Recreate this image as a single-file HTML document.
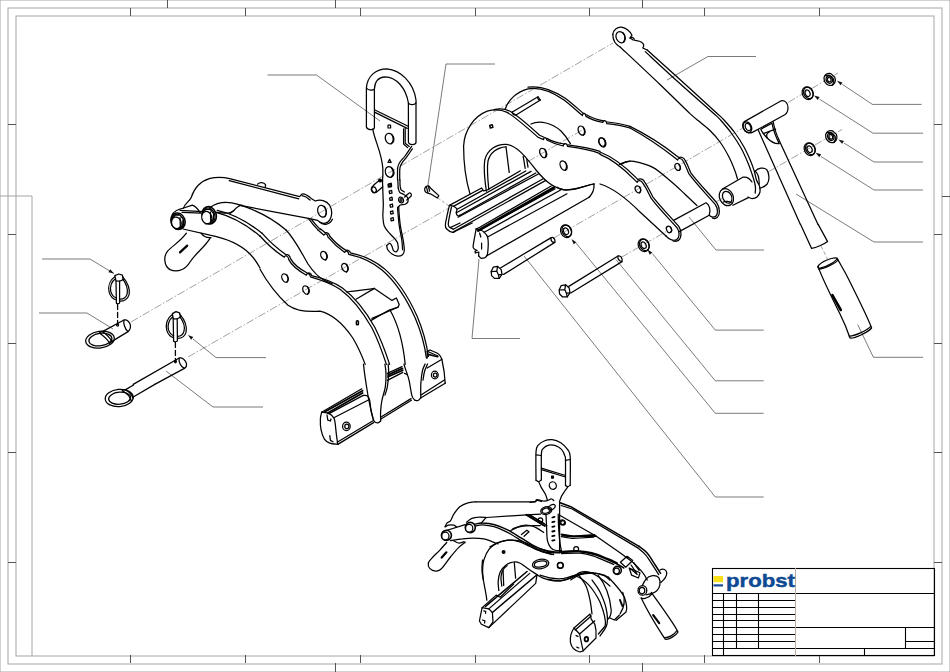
<!DOCTYPE html>
<html><head><meta charset="utf-8">
<style>
html,body{margin:0;padding:0;background:#fff;}
body{width:950px;height:672px;overflow:hidden;font-family:"Liberation Sans",sans-serif;}
svg{display:block}
.f{fill:none;stroke:#a6a6a6;stroke-width:1}
.t{fill:none;stroke:#555;stroke-width:1}
.b{fill:none;stroke:#000;stroke-width:1.1}
.p{fill:none;stroke:#000;stroke-width:1.25;stroke-linecap:round;stroke-linejoin:round}
.pf{fill:#fff;stroke:#111;stroke-width:1;stroke-linecap:round;stroke-linejoin:round}
.h{fill:none;stroke:#222;stroke-width:0.7;stroke-linecap:round;stroke-linejoin:round}
.l{fill:none;stroke:#333;stroke-width:0.65}
.c{fill:none;stroke:#555;stroke-width:0.55;stroke-dasharray:8 2 1.5 2}
.k{fill:#111;stroke:none}
.z *{vector-effect:non-scaling-stroke}
</style></head><body>
<svg width="950" height="672" viewBox="0 0 950 672">
<rect width="950" height="672" fill="#fff"/>
<!-- FRAME -->
<g class="f">
<rect x="0" y="0" width="950" height="672"/>
<rect x="8" y="8" width="934" height="656"/>
<rect x="16" y="16" width="918" height="640"/>
<path d="M0 196H32V656"/>
</g>
<g class="t">
<path d="M130.500 8V16M245.500 8V16M360.500 8V16M475.500 8V16M589.500 8V16M704.500 8V16M819.500 8V16"/>
<path d="M130.500 655V663M245.500 655V663M360.500 655V663M475.500 655V663M589.500 655V663M704.500 655V663M819.500 655V663"/>
<path d="M167.500 0V8M335.500 0V8M642.500 0V8M335.500 663V672M642.500 663V672"/>
<path d="M8 124.500H16M8 234.500H16M8 343.500H16M8 452.500H16M8 562.500H16"/>
<path d="M934 124.500H942M934 234.500H942M934 343.500H942M934 452.500H942M934 562.500H942M942 196.500H950"/>
</g>
<!-- TITLE BLOCK -->
<g class="b">
<rect x="712.500" y="568.500" width="222" height="87"/>
<path d="M712.500 593.500H934.500M795.500 627.500H934.500M905.500 627.500V648.500M905.500 641.500H934.500M712.500 648.500H934.500M864.500 648.500V655.500"/>
<path d="M712.500 600.500H795.500M712.500 607.500H795.500M712.500 614.500H795.500M712.500 620.500H795.500M712.500 627.500H795.500M712.500 634.500H795.500M712.500 641.500H795.500"/>
<path d="M723.500 593.500V655.500M736.500 593.500V648.500M758.500 593.500V648.500"/>
</g>
<path d="M795.500 568V656" stroke="#b9a9a0" stroke-width="1" fill="none"/>
<!-- LOGO -->
<rect x="713.500" y="576" width="9.500" height="6.200" fill="#f7e017"/>
<rect x="713.500" y="584.300" width="9.500" height="2.200" fill="#164a96"/>
<text x="726" y="586.500" font-family="Liberation Sans" font-weight="bold" font-size="18.500" fill="#0f4a94" stroke="#0f4a94" stroke-width="0.45" textLength="69" lengthAdjust="spacingAndGlyphs">probst</text>
<g class="c">
<path d="M131 322L613 43"/>
<path d="M188 357L448 208.500"/>
<path d="M553 238.500L743 128M788 102.500L838 73"/>
<path d="M621 257.500L668 230.500M716 202L722 198.500M768 172L842 129.500"/>
<path d="M528 161.500L584 129"/>
<path d="M438 198L449 206" stroke-dasharray="3 2"/>
<path d="M821 246L827.500 259" stroke-dasharray="4 2"/>
</g>
<g class="l">
<path d="M267.500 75H316.500L380 121"/>
<path d="M495 64H446L428 185"/>
<path d="M756 56.500H708L667 80"/>
<path d="M921.600 104.400H872.400L842.400 84.400"/>
<path d="M923 133.200H873L819.600 99.200"/>
<path d="M923 162H874L844 143"/>
<path d="M923 190H874L821 156.500"/>
<path d="M923 242H874L796 194"/>
<path d="M923.100 357.300H873.400L857.700 324.500"/>
<path d="M764 250H716L689 217"/>
<path d="M763.700 330.100H715.300L652.400 253.600"/>
<path d="M763.700 380.800H715.300L616 259.600"/>
<path d="M763.700 413.300H715.300L576 243"/>
<path d="M763.700 497H715.300L524 256"/>
<path d="M520 338.500H472L479 259"/>
<path d="M42 259H90L114 273.600"/>
<path d="M39 313H87L113 329"/>
<path d="M266 357.600H216L193 339"/>
<path d="M263 407H213L166 371"/>
</g>
<g class="k">
<path d="M837.0 80.8L840.6 85.3L842.5 82.4Z"/>
<path d="M814.0 95.6L817.7 100.0L819.6 97.1Z"/>
<path d="M838.4 139.4L842.1 143.8L844.0 140.9Z"/>
<path d="M815.6 152.8L819.3 157.2L821.2 154.3Z"/>
<path d="M647.5 249.5L649.7 254.8L652.3 252.6Z"/>
<path d="M571.5 239.0L573.7 244.3L576.3 242.2Z"/>
<path d="M188.0 335.0L191.2 339.8L193.3 337.1Z"/>
<path d="M114.0 273.6L110.2 269.3L108.4 272.2Z"/>
</g>

<g class="z p" transform="translate(150 160) scale(.2)">
<path d="M168 240C172 218 196 210 206 188C218 150 245 108 300 92C340 82 370 86 398 93L748 183L760 170C775 168 792 180 806 192L826 205C852 195 882 202 898 226C915 254 911 294 886 312C870 321 850 315 838 302L792 292L445 226"/>
<path d="M396 103L744 194"/>
<path d="M760 178C775 180 790 190 800 200"/>
<path d="M538 121C548 110 570 110 578 124L576 136"/>
<path d="M848 310C868 330 900 322 912 296"/>
<ellipse cx="860" cy="256" rx="21" ry="30" transform="rotate(-18 860 256)"/>
<path d="M872 232C884 250 884 272 874 284"/>
<path d="M168 240C140 246 118 256 110 276"/>
<path d="M168 240L212 226C228 232 240 246 250 262"/>
<path d="M150 252L262 258"/>
<path d="M160 262L255 266"/>
<path d="M165 345L300 376C380 392 450 420 500 470C520 490 536 514 550 540"/>
<ellipse cx="140" cy="306" rx="35" ry="42" transform="rotate(-20 140 306)" stroke-width="1.6"/>
<ellipse cx="138" cy="308" rx="30" ry="37" transform="rotate(-20 138 308)"/>
<path d="M112 290L128 274L150 276L166 296L166 322L150 342L128 344L110 326Z" fill="#fff"/>
<ellipse cx="132" cy="314" rx="24" ry="29" transform="rotate(-15 132 314)" fill="#fff"/>
<path d="M150 288L152 338M166 300L164 326"/>
<ellipse cx="296" cy="276" rx="35" ry="44" transform="rotate(-20 296 276)" stroke-width="1.6"/>
<ellipse cx="294" cy="278" rx="30" ry="39" transform="rotate(-20 294 278)"/>
<path d="M264 262L280 246L302 248L318 268L318 296L302 318L280 320L262 300Z" fill="#fff"/>
<ellipse cx="284" cy="288" rx="25" ry="31" transform="rotate(-15 284 288)" fill="#fff"/>
<path d="M302 260L304 312M318 274L316 300"/>
<path d="M300 238C330 216 380 204 440 222C520 246 610 290 680 350"/>
<path d="M330 262C410 282 490 330 552 382"/>
<path d="M336 252C420 270 500 318 560 366"/>
<path d="M330 262C345 262 395 276 420 252C430 240 445 228 460 226"/>
<path d="M400 268L420 252"/>
<path d="M792 292C812 320 830 340 842 352"/>
<path d="M806 296C824 320 840 336 852 348"/>
<path d="M182 366C150 410 110 430 88 456C66 484 70 530 100 548C140 566 180 545 200 510C225 470 270 440 300 392"/>
<path d="M255 366C265 380 285 390 305 388"/>
<path d="M150 462L186 428" stroke-width="2.2"/>
</g>

<g class="z p" transform="translate(330 60) scale(.2)">
<path d="M182 335V140C186 80 230 44 285 44C350 50 418 110 430 200V412C428 426 396 426 392 412V215C380 140 330 84 275 84C240 86 224 110 222 145V340C218 352 186 350 182 335Z"/>
<path d="M182 140C190 152 214 154 222 146"/>
<path d="M392 216C400 226 422 226 430 214"/>
<path d="M225 250L388 330M225 262L386 342"/>
<path d="M214 346C222 400 258 460 264 540C266 570 264 590 262 610"/>
<path d="M376 342V416L396 432"/>
<path d="M368 344V420L388 438"/>
<path d="M408 432C402.5 440 384.7 467 375 480C365.3 493 356 500.8 350 510C344 519.2 341.1 524.2 339 535C336.9 545.8 337.7 564.2 337.5 575C337.3 585.8 337.9 595.8 338 600"/>
<path d="M412 444C407.3 450.7 392.5 472.5 384 484C375.5 495.5 366.7 504 361 513C355.3 522 352.1 527.7 350 538C347.9 548.3 348.7 564.7 348.5 575C348.3 585.3 348.9 595.8 349 600"/>
<ellipse cx="298" cy="393" rx="21" ry="27" transform="rotate(-20 298 393)"/>
<path d="M308 372C320 388 318 410 306 418"/>
<ellipse cx="298" cy="560" rx="21" ry="27" transform="rotate(-20 298 560)"/>
<path d="M308 540C320 556 318 576 306 584"/>
<rect x="290" y="326" width="13" height="14" stroke-width="1.2"/>
<path d="M298 496L290 512H306Z" stroke-width="1.2"/>
<path d="M290 622L302 618L306 634L292 636Z" stroke-width="1.3"/>
</g>

<g class="z p" transform="translate(340 160) scale(.2)">
<path d="M212 110L212 99"/>
<path d="M212.3 99C212.7 109.5 213.7 140.9 214.4 161.9C215.1 182.9 216.5 205.1 216.5 224.9C216.5 244.7 213.6 263.4 214.4 280.9C215.2 298.4 216.2 315.8 221.4 329.8C226.6 343.8 237.1 354.3 245.9 364.8C254.6 375.3 266.9 384.6 273.9 392.8C280.9 401 285.5 410.3 287.9 413.8"/>
<path d="M233.3 427.8C234.2 431.3 234.5 441.8 238.9 448.8C243.3 455.8 251.7 464.5 259.9 469.8C268 475 279.1 479.7 287.9 480.3C296.6 480.8 306.8 477.9 312.4 473.3C317.9 468.6 320.9 464.5 321.4 452.3C322 440 319.1 420.2 315.8 399.8C312.6 379.4 305.4 353.2 301.9 329.8C298.4 306.5 296.3 276 294.9 259.9C293.5 243.8 293.7 237.7 293.5 233.3"/>
<path d="M233.3 427.8C236 426 245 416.7 249.4 417.3C253.8 417.9 257 425.5 259.9 431.3C262.8 437.1 263.4 447.6 266.9 452.3C270.4 456.9 276.8 461 280.9 459.3C284.9 457.5 290.2 449.4 291.4 441.8C292.5 434.2 288.4 418.5 287.9 413.8"/>
<path d="M300 100C299 125 300 140 306 150L322 160"/>
<path d="M289 100L291 141"/>
<path d="M291.4 140.9C292.5 144.4 293.7 156.7 298.4 161.9C303 167.2 312.9 168.3 319.3 172.4C325.8 176.5 333.3 180.6 336.8 186.4C340.3 192.3 342.1 201.6 340.3 207.4C338.6 213.2 332.8 218.5 326.3 221.4C319.9 224.3 307.3 222.9 301.9 224.9C296.4 226.9 294.9 231.9 293.5 233.3"/>
<path d="M287.9 235.4C288.1 239.5 287.9 244.1 289.3 259.9C290.7 275.6 293 306.5 296.3 329.8C299.5 353.2 306.1 380 308.9 399.8C311.7 419.6 312.4 440.6 313 448.8"/>
<g stroke-width="1.300">
<path d="M244 120L256 116L258 130L246 132Z"/>
<path d="M246 156L258 152L260 166L248 168Z"/>
<path d="M248 190L260 186L262 200L250 202Z"/>
<path d="M250 224L262 220L264 234L252 236Z"/>
<path d="M252 258L264 254L266 268L254 270Z"/>
<path d="M254 292L266 288L268 302L256 304Z"/>
</g>
<path d="M196 102C182 112 168 124 160 136C154 152 166 166 180 162C192 154 204 142 214 134"/>
<ellipse cx="169" cy="149" rx="12" ry="15" transform="rotate(-25 169 149)"/>
<circle cx="200" cy="102" r="5" stroke-width="2"/>
<ellipse cx="305" cy="200" rx="12" ry="15" transform="rotate(-20 305 200)"/>
<ellipse cx="305" cy="200" rx="5" ry="7"/>
<path d="M322 186L344 166C352 162 360 170 356 180L334 200"/>
<path d="M424 141C430 128 444 124 452 140L494 178L487 190L452 169L436 165C426 162 422 152 424 141Z"/>
<path d="M432 134L440 164M442 130L448 156"/>
</g>

<g class="z p" transform="translate(440 70) scale(.2)">
<path d="M150 620C132 560 118 470 118 380C122 300 170 232 236 206C270 196 310 200 336 212C380 238 440 292 490 336L518 348C518 334 532 334 534 350C560 364 590 374 616 380C618 364 634 364 638 382C700 390 760 402 800 418"/>
<path d="M270 198C300 190 330 196 350 206C395 232 450 282 498 326L520 336"/>
<path d="M534 342C560 356 595 366 622 370"/>
<path d="M640 374C700 382 760 393 800 407"/>
<path d="M232 606C222 540 218 490 224 450C236 400 280 370 330 372C390 378 440 450 480 500C520 548 560 590 625 600C680 600 730 578 770 570"/>
<path d="M244 598C238 540 234 490 240 455C250 415 285 386 330 384"/>
<path d="M330 384L346 512"/>
<path d="M416 432L426 492M434 448L440 486"/>
<path d="M326 196C340 150 385 108 440 94C500 84 560 108 620 150C660 180 690 210 712 228C712 212 728 212 730 232C760 250 790 258 814 262C816 248 832 250 834 268C880 272 920 280 950 290"/>
<path d="M440 86C505 76 565 100 628 142C668 172 698 202 718 218"/>
<path d="M732 224C762 242 792 250 818 254"/>
<path d="M836 260C880 264 920 272 950 282"/>
<path d="M455 270C500 250 560 265 605 305C625 325 640 348 652 368"/>
<path d="M905 472C920 462 936 458 950 456"/>
<path d="M362 210L490 134L502 150L382 224"/>
<path d="M490 134C486 142 492 152 502 150"/>
<path d="M362 210C360 218 368 226 382 224"/>
<ellipse cx="516" cy="415" rx="16" ry="25" transform="rotate(-25 516 415)"/>
<path d="M524 396C534 410 532 430 524 438"/>
<ellipse cx="618" cy="478" rx="16" ry="25" transform="rotate(-25 618 478)"/>
<path d="M626 460C636 474 634 492 626 500"/>
<ellipse cx="708" cy="303" rx="16" ry="24" transform="rotate(-25 708 303)"/>
<path d="M716 286C726 300 724 318 716 326"/>
<ellipse cx="812" cy="362" rx="16" ry="24" transform="rotate(-25 812 362)"/>
<path d="M820 344C830 358 828 376 820 384"/>
<rect x="250" y="275" width="13" height="14" transform="rotate(-15 256 282)" stroke-width="1.5"/>
</g>

<g class="z p" transform="translate(440 150) scale(.2)">
<path d="M46.9 277.5C45.2 284.8 40.2 304.8 36.8 321C33.5 337.2 27.4 362.3 26.8 374.6C26.2 386.9 27.4 388.5 33.5 394.7C39.6 401 56.7 410.3 63.6 412.1C70.6 413.9 73.1 406.5 75 405.4"/>
<path d="M57.6 284.9C56 292 50.9 313 48.2 327.7C45.5 342.5 41.1 363.2 41.5 373.3C42 383.3 46.7 384.2 50.9 388C55.1 391.8 64.3 394.7 67 396.1"/>
<path d="M46.9 277.5C50.2 278.2 60.7 278.6 67 281.5C73.2 284.4 82.1 289.4 84.4 294.9C86.7 300.4 80.4 308.6 81 314.3C81.7 320 85.2 327.2 88.4 329.1C91.7 331 98.5 326.3 100.5 325.7"/>
<path d="M47 277L208 190L218 204L236 200L402 104"/>
<path d="M67 282L213 202"/>
<path d="M86 296L429 105"/>
<path d="M82 314L455 107"/>
<path d="M100 326L479 115"/>
<path d="M90 336L492 120"/>
<path d="M51 388L100 365"/>
<path d="M67 396L516 144"/>
<path d="M75 405L529 152"/>
<path d="M64 412L161 365"/>
<path d="M180.8 394.7C179.2 403.6 173.3 432.7 170.8 448.3C168.3 463.9 163.9 479.6 166.1 488.5C168.3 497.4 181.2 499.6 184.2 501.9"/>
<path d="M184 502L175 507L177 515L194 510L193 529"/>
<path d="M192.9 528.7C195.4 530.9 200.7 542.1 207.6 542.1C214.6 542.1 228.8 539.8 234.4 528.7C240 517.5 240.6 490.7 241.1 475.1C241.7 459.5 241.1 445.5 237.8 434.9C234.4 424.3 227.2 417.5 221 411.5C214.9 405.4 207.6 401.5 200.9 398.7C194.2 395.9 184.2 395.4 180.8 394.7"/>
<path d="M181 395L201 385L556 180"/>
<path d="M201 399L576 194"/>
<path d="M221 411L603 200"/>
<path d="M238 435L635 219"/>
<path d="M234 529L750 234"/>
<path d="M198 415L204 435"/>
<path d="M208 465L208 495"/>
<path d="M191 403L569 188" stroke-width="2.600"/>
<path d="M745 236C762 220 772 200 770 170"/>
<path d="M586 186C600 200 640 204 680 194C720 182 750 172 770 170"/>
<path d="M302 590L556 438C566 434 578 446 574 462L318 622"/>
<path d="M556 438C552 450 560 464 574 462"/>
<path d="M256 608L266 586L288 582L306 598L310 622L296 642L272 642L258 628Z" fill="#fff"/>
<path d="M288 582L284 606L292 624L296 642M284 606L256 608M292 624L310 622"/>
<ellipse cx="630" cy="406" rx="26" ry="33" transform="rotate(-25 630 406)"/>
<ellipse cx="634" cy="404" rx="23" ry="30" transform="rotate(-25 634 404)"/>
<ellipse cx="630" cy="406" rx="12" ry="17" transform="rotate(-25 630 406)"/>
</g>

<g class="z p" transform="translate(600 20) scale(.2)">
<ellipse cx="103" cy="86" rx="22" ry="29" transform="rotate(-25 103 86)"/>
<path d="M116 64C128 80 126 102 116 112"/>
<path d="M150 90C156 84 166 86 172 96"/>
</g>

<g class="p">
<path d="M612.800 34.400C613.200 30 617.200 26.800 621.600 27.200C626 28 630 31.600 632 35.200L630 38L633.200 40C636 40.800 639.200 40.800 641.200 42C644 43.600 644.400 46 642.800 48L647.200 50"/>
<path d="M647.2 50C652.8 55 669.1 69.7 680.5 80C691.9 90.3 708.2 105.3 715.5 112C722.8 118.7 720.8 116.5 724 120C727.2 123.5 731.7 128.5 735 133C738.3 137.5 741.3 142.2 744 147C746.7 151.8 749.2 157.8 751 162C752.8 166.2 753.6 169 754.5 172C755.4 175 755.7 177.7 756.5 180C757.3 182.3 758.9 184 759.5 186C760.1 188 760.4 190.2 760 192C759.6 193.8 758.3 195.9 757 197C755.7 198.1 753.5 198.5 752 198.5C750.5 198.5 748.7 197.2 748 197"/>
<path d="M645.2 51.6C650.4 56.4 665.4 70.4 676.5 80.5C687.6 90.6 704.7 105.4 712 112C719.3 118.6 717.2 116.3 720.5 120C723.8 123.7 728.6 129.3 732 134C735.4 138.7 738.3 143.2 741 148C743.7 152.8 746.2 158.7 748 163C749.8 167.3 750.9 170.8 752 174C753.1 177.2 753.9 179.7 754.5 182C755.1 184.3 755.4 186.2 755.5 188C755.6 189.8 755.2 192.2 755.2 193"/>
<path d="M612.800 34.400C612.800 40 616 44.800 620.400 47.200"/>
<path d="M620.4 47.2C627 53.4 648.4 73.4 660 84.5C671.6 95.6 683.3 107.3 690 113.6C696.7 119.8 696.7 119.2 700 122C703.3 124.8 706.7 127.2 710 130.5C713.3 133.8 716.8 137.6 720 142C723.2 146.4 726.5 152.2 729 157C731.5 161.8 733.6 167.3 735 171C736.4 174.7 737.1 177.7 737.5 179"/>
</g>

<g class="z p" transform="translate(600 130) scale(.2)">
<path d="M0 122C60 146 120 195 172 248L186 262C188 248 208 250 214 266C232 290 244 320 256 342C300 400 350 448 386 490C400 510 398 538 384 548C366 556 344 546 330 530"/>
<path d="M0 110C66 136 128 185 180 238L190 248C200 240 218 246 224 262C240 284 252 312 264 334C310 392 358 440 394 482C410 506 408 540 392 552C382 558 372 558 364 554"/>
<path d="M0 270C60 288 130 340 200 410L330 530"/>
<path d="M150 -10C250 44 330 104 376 140L388 150C390 138 410 140 416 156C430 180 438 204 444 218C480 268 540 330 576 372C592 396 590 422 578 432C566 438 554 434 546 426"/>
<path d="M150 -18C256 34 340 95 384 130L394 138C404 132 420 138 426 152C440 176 448 200 454 214C490 262 548 322 584 364C602 392 600 426 586 438C578 444 570 444 562 440"/>
<path d="M97 172C101.7 170 112.8 162.5 125 160C137.2 157.5 146.8 152.5 170 157C193.2 161.5 233.8 170.8 264 187C294.2 203.2 324.2 231.7 351 254C377.8 276.3 402.7 300.3 425 321C447.3 341.7 475 368.5 485 378"/>
<ellipse cx="190" cy="297" rx="13" ry="18" transform="rotate(-25 190 297)"/>
<path d="M198 284C206 294 204 308 198 314"/>
<ellipse cx="388" cy="185" rx="13" ry="18" transform="rotate(-25 388 185)"/>
<path d="M396 172C404 182 402 196 396 202"/>
<ellipse cx="345" cy="497" rx="12" ry="17" transform="rotate(-25 345 497)"/>
<path d="M352 484C360 494 358 506 352 512"/>
<ellipse cx="10" cy="60" rx="15" ry="22" transform="rotate(-25 10 60)"/>
<path d="M368 452L530 364C546 372 556 400 546 426L396 508"/>
<ellipse cx="218" cy="576" rx="26" ry="33" transform="rotate(-25 218 576)"/>
<ellipse cx="222" cy="574" rx="23" ry="30" transform="rotate(-25 222 574)"/>
<ellipse cx="218" cy="576" rx="12" ry="17" transform="rotate(-25 218 576)"/>
</g>

<g class="z p" transform="translate(690 90) scale(.2)">
<path d="M326 406C340 390 368 384 384 398C398 420 398 452 386 470C374 484 360 488 348 492"/>
<path d="M326 406C338 414 346 440 346 470"/>
<ellipse cx="182" cy="536" rx="34" ry="44" transform="rotate(-25 182 536)"/>
<ellipse cx="186" cy="536" rx="22" ry="31" transform="rotate(-25 186 536)"/>
<path d="M166 560C178 554 198 556 206 562"/>
<path d="M160 496L264 436C284 432 300 444 310 460"/>
<path d="M214 576L292 538"/>
<path d="M272 158L456 54C474 50 490 64 490 88C490 106 484 118 474 124L312 212C294 220 272 208 266 188C262 176 264 164 272 158Z"/>
<ellipse cx="287" cy="186" rx="20" ry="28" transform="rotate(-25 287 186)"/>
<ellipse cx="290" cy="185" rx="13" ry="19" transform="rotate(-25 290 185)"/>
<path d="M340 198L552 672M416 160C424 200 436 232 446 252L640 672"/>
<path d="M354 196L410 166C416 200 432 240 446 268C430 270 404 258 386 240C372 226 360 210 354 196Z"/>
<path d="M366 218L428 196"/>
<path d="M386 240C380 226 384 216 396 210"/>
<ellipse cx="588" cy="16" rx="26" ry="33" transform="rotate(-25 588 16)"/>
<ellipse cx="592" cy="14" rx="23" ry="30" transform="rotate(-25 592 14)"/>
<ellipse cx="588" cy="16" rx="12" ry="17" transform="rotate(-25 588 16)"/>
<ellipse cx="598" cy="296" rx="26" ry="33" transform="rotate(-25 598 296)"/>
<ellipse cx="602" cy="294" rx="23" ry="30" transform="rotate(-25 602 294)"/>
<ellipse cx="598" cy="296" rx="12" ry="17" transform="rotate(-25 598 296)"/>
<path d="M678 224C682 208 696 200 712 204L732 222C738 240 732 254 720 262C704 266 688 256 680 242Z"/>
<ellipse cx="704" cy="234" rx="15" ry="19" transform="rotate(-25 704 234)"/>
<ellipse cx="704" cy="234" rx="9" ry="12" transform="rotate(-25 704 234)"/>
<path d="M686 214C694 210 706 212 714 218L726 232C730 244 726 254 720 262"/>
</g>

<g class="z p" transform="translate(260 230) scale(.2)">
<path d="M0 30C40 75 80 110 122 136C124 124 142 128 144 148C160 180 195 205 232 226C234 212 250 216 252 234C300 248 350 262 400 296C460 340 520 420 560 490C590 550 615 620 632 672"/>
<path d="M10 16C50 62 90 96 130 124C140 120 150 128 152 142C168 172 200 196 238 216C246 212 256 218 258 228C310 240 360 254 412 290C474 336 534 416 574 486C604 546 630 616 648 672"/>
<path d="M0 196C30 250 80 320 140 376C190 410 250 410 300 406C360 420 420 476 464 540C494 590 514 640 526 672"/>
<path d="M290 0L320 26C322 14 338 18 340 36C370 72 400 96 424 112C426 100 442 104 444 122C500 134 560 158 610 200C680 260 740 360 776 440C806 510 824 580 832 640"/>
<path d="M302 -6L326 14C336 10 346 18 348 30C376 64 404 86 430 102C440 98 450 106 452 114C508 126 568 150 620 192C690 252 750 352 786 432C816 502 834 575 842 632"/>
<path d="M130 0C170 40 200 100 240 170C270 215 300 240 322 252"/>
<path d="M322 252L360 268"/>
<path d="M432 310C470 304 530 300 572 292L660 352L682 340L696 372L690 386L560 442"/>
<path d="M480 346L572 292M690 386L646 400L556 452"/>
<path d="M650 400C690 470 715 560 726 672"/>
<ellipse cx="125" cy="240" rx="15" ry="22" transform="rotate(-25 125 240)"/>
<path d="M134 224C142 238 140 254 134 262"/>
<ellipse cx="230" cy="300" rx="15" ry="22" transform="rotate(-25 230 300)"/>
<path d="M238 284C246 298 244 314 238 322"/>
<ellipse cx="320" cy="128" rx="15" ry="22" transform="rotate(-25 320 128)"/>
<path d="M328 112C336 126 334 142 328 150"/>
<ellipse cx="425" cy="188" rx="15" ry="22" transform="rotate(-25 425 188)"/>
<path d="M433 172C441 186 439 202 433 210"/>
<rect x="482" y="454" width="10" height="20" rx="4" stroke-width="1.5"/>
</g>

<g class="z p" transform="translate(290 330) scale(.2)">
<path d="M158.5 411.2C157.4 416.8 152.4 430.2 151.8 444.7C151.2 459.2 151.8 481.6 155.1 498.3C158.5 515 164.6 534 171.9 545.2C179.1 556.3 187.5 560.8 198.7 565.3C209.8 569.7 232.2 570.9 238.9 572"/>
<path d="M238.9 572C237.7 564.2 234.4 542.9 232.2 525.1C229.9 507.2 227.7 479.1 225.5 464.8C223.2 450.5 223.8 447.2 218.8 439.4C213.7 431.5 205.4 422.6 195.3 417.9C185.3 413.2 164.6 412.3 158.5 411.2"/>
<path d="M185 425L189 451L202 455L205 445"/>
<path d="M199 528L202 552L215 559"/>
<path d="M158 411L359 294"/>
<path d="M175 409L363 304" stroke-width="1.8"/>
<path d="M189 415L363 315" stroke-width="1.8"/>
<path d="M195 418L366 327"/>
<path d="M366.1 327.5C369.7 327.8 382.2 325.6 387.6 329.5C392.9 333.4 395.4 338.4 398.3 350.9C401.2 363.4 401.6 387.6 405 404.5C408.3 421.5 416.1 444.7 418.4 452.7"/>
<path d="M219 439L392 350"/>
<path d="M239 572L418 463"/>
<path d="M236 561L413 455"/>
<path d="M455 445L607 351"/>
<path d="M455 435L605 343"/>
<path d="M367.5 170.1C368.4 177.9 370.3 198 372.8 217C375.4 236 379.5 262.7 382.9 284C386.2 305.2 389 324.1 392.9 344.2C396.8 364.3 401.9 386.1 406.3 404.5C410.8 422.9 414.4 444.7 419.7 454.8C425.1 464.8 432.9 464.8 438.5 464.8C444 464.8 450.7 456.4 453.2 454.8"/>
<path d="M474.6 170.1C475.5 177.9 479.7 198 480 217C480.3 236 480 261.6 476.6 284C473.3 306.3 463.8 330.8 459.9 350.9C456 371 454.3 387.2 453.2 404.5C452.1 421.8 453.2 446.4 453.2 454.8"/>
<path d="M490.7 170.1C491.2 177.9 494.1 198 493.4 217C492.7 236 489.8 265.9 486.7 284C483.6 302 476.6 318.6 474.6 325.5"/>
<path d="M487 217L560 183"/>
<path d="M490 225L562 192" stroke-width="1.8"/>
<path d="M490 234L564 201" stroke-width="1.8"/>
<path d="M487 252L564 212"/>
<path d="M572.4 217C574.9 218.3 583.1 218.3 587.2 225C591.2 231.7 592.7 239.8 596.5 257.2C600.3 274.6 605.4 313.9 609.9 329.5C614.5 345.1 621.7 347.4 624 350.9"/>
<path d="M569.7 170.1C571.1 174.6 574.9 188 577.8 196.9C580.7 205.8 585.6 219.2 587.2 223.7"/>
<path d="M624 350.9C626.8 351.2 635.7 354.3 640.7 352.3C645.8 350.3 651.9 341.1 654.1 338.9"/>
<path d="M675.6 170.1C673.3 175.7 665.8 186.8 662.2 203.6C658.6 220.3 655.5 248 654.1 270.6C652.8 293.1 654.1 327.5 654.1 338.9"/>
<path d="M687.6 170.1C685.2 176.1 676.7 192.9 672.9 206.3C669.1 219.7 666.2 243.1 664.9 250.5"/>
<path d="M686 140V106L700 100L735 115C748 122 756 136 760 150C768 185 774 225 776 266"/>
<path d="M686 106L740 130M686 190L760 146"/>
<path d="M690 122L738 134" stroke-width="1.600"/>
<path d="M655 339L776 266M655 325L772 250"/>
<ellipse cx="282" cy="482" rx="19" ry="21"/><ellipse cx="284" cy="482" rx="10" ry="11"/><ellipse cx="724" cy="225" rx="17" ry="19"/><ellipse cx="726" cy="225" rx="9" ry="10"/>
</g>

<g class="z p" transform="translate(30 250) scale(.2)">
<path d="M424 128L444 120L462 126L466 148L448 156L430 154Z"/>
<path d="M430 154L432 266M448 156L448 264M432 266C436 270 444 270 448 264"/>
<path d="M424 134C400 150 388 180 396 212C402 232 416 246 432 250"/>
<path d="M428 144C408 156 398 182 404 208C410 226 420 236 432 240"/>
<path d="M464 134C486 160 500 195 496 222C490 244 470 256 450 256"/>
<path d="M464 146C480 168 490 196 486 218C482 236 468 246 450 246"/>
<path d="M438 272V372" stroke-dasharray="5 3" stroke-width="1.3"/>
<path d="M362 408L470 350C484 346 498 358 502 376C504 392 498 402 490 408L402 462"/>
<path d="M470 350C466 364 474 396 490 408"/>
<ellipse cx="438" cy="375" rx="5" ry="6"/>
<ellipse cx="350" cy="448" rx="72" ry="42" transform="rotate(-8 350 448)"/>
<ellipse cx="352" cy="448" rx="58" ry="31" transform="rotate(-8 352 448)"/>
<path d="M362 408C380 420 400 440 412 462M348 416C366 428 390 448 400 470"/>
<path d="M362 408C350 410 344 414 348 416"/>
<path d="M712 318L730 308L748 314L752 336L736 344L716 344Z"/>
<path d="M716 344L718 456M736 344L737 454M718 456C722 460 732 460 737 454"/>
<path d="M710 324C686 340 676 372 684 402C690 422 702 434 718 438"/>
<path d="M714 334C696 348 686 374 692 398C698 414 706 424 718 428"/>
<path d="M750 322C772 348 786 384 780 412C774 432 756 442 738 442"/>
<path d="M750 334C766 356 776 384 770 406C766 422 754 432 738 432"/>
<path d="M727 462V560" stroke-dasharray="5 3" stroke-width="1.3"/>
<path d="M516 672L746 540C760 536 776 548 782 566C784 578 780 588 772 592L624 672"/>
<path d="M746 540C742 556 752 584 772 592"/>
<ellipse cx="727" cy="558" rx="5" ry="6"/>
</g>

<g class="z p" transform="translate(80 340) scale(.2)">
<path d="M228 248L268 225M264 286L374 222"/>
<ellipse cx="196" cy="290" rx="70" ry="43" transform="rotate(-5 196 290)"/>
<ellipse cx="198" cy="291" rx="55" ry="30" transform="rotate(-5 198 291)"/>
<path d="M228 248C244 258 260 274 266 292M212 254C230 264 250 284 256 304"/>
<path d="M228 248C218 248 210 250 212 254"/>
</g>

<g class="z p" transform="translate(760 210) scale(.2)">
<path d="M203 72L258 192C280 188 320 172 338 158L291 72"/>
<path d="M290 282C300 262 360 234 384 240C392 250 340 282 296 292C290 290 288 286 290 282Z"/>
<path d="M294 296C320 294 380 266 390 250"/>
<path d="M290 282C310 340 350 420 400 520C420 560 440 610 450 640C470 644 540 612 558 590C540 540 500 460 440 340C420 300 400 268 386 242"/>
<path d="M446 630C470 632 536 602 554 582"/>
<path d="M362 426L404 500" stroke-width="2.600"/>
</g>

<g class="z p" transform="translate(760 40) scale(.2)">
<path d="M320 188C324 172 338 164 354 168L374 186C380 204 374 218 362 226C346 230 330 220 322 206Z"/>
<ellipse cx="346" cy="198" rx="15" ry="19" transform="rotate(-25 346 198)"/>
<ellipse cx="346" cy="198" rx="9" ry="12" transform="rotate(-25 346 198)"/>
<path d="M328 178C336 174 348 176 356 182L368 196C372 208 368 218 362 226"/>
</g>

<g class="z p" transform="translate(480 220) scale(.2)">
<path d="M444 332L690 180C702 176 714 190 710 208L456 364"/>
<path d="M690 180C686 192 696 206 710 208"/>
<path d="M396 350L406 328L428 324L446 340L450 364L436 384L412 384L398 370Z" fill="#fff"/>
<path d="M428 324L424 348L432 366L436 384M424 348L396 350M432 366L450 364"/>
</g>

<g class="p" stroke-width="1.5">
<path d="M536 480.2C536 475.5 535.7 457.9 536 452.1C536.4 446.3 536.7 447.3 538 445.4C539.4 443.6 541.7 441.9 544.1 441C546.4 440 549.3 439.4 552.1 439.6C554.9 439.9 558.2 441.1 560.8 442.7C563.4 444.4 565.9 447.1 567.5 449.4C569.1 451.8 569.7 450.8 570.2 456.8C570.6 462.8 570.2 480.5 570.2 485.2"/>
<path d="M541.4 479.8C541.4 475.5 541.1 459.1 541.4 453.8C541.7 448.6 542.2 449.8 543.4 448.4C544.6 446.9 546.9 445.6 548.8 445.1C550.7 444.6 552.7 444.7 554.8 445.4C556.9 446.1 559.8 447.7 561.5 449.4C563.2 451.1 564.2 453.9 564.8 455.7C565.5 457.5 565.4 455.2 565.5 460.1C565.6 465.1 565.5 481.4 565.5 485.6"/>
<path d="M536 480.2C536.5 480.5 537.8 481.8 538.7 481.7C539.6 481.6 540.9 480.1 541.4 479.8"/>
<path d="M565.5 485.6C565.9 485.8 567.1 486.7 567.9 486.7C568.7 486.6 569.8 485.4 570.2 485.2"/>
<path d="M536.0 454.8L541.4 455.5"/>
<path d="M565.5 460.3L570.2 459.5"/>
<path d="M541.4 468.2L565.5 475.5"/>
<path d="M541.4 469.7L565.5 477.0"/>
<path d="M551.6 476.2L553.4 476.2L553.4 478.1L551.6 478.1Z" fill="#000"/>
<ellipse cx="552.8" cy="485.6" rx="3.5" ry="3.8" transform="rotate(-20 552.8 485.6)"/>
<path d="M538.7 481.7C539.2 482.7 540.3 485.5 541.4 487.6C542.5 489.7 544.4 492.2 545.4 494.3C546.4 496.4 547.1 499.3 547.4 500.3"/>
<path d="M567.9 486.7C567.4 487.4 565.9 489.3 564.8 491C563.8 492.6 562.4 494.5 561.5 496.3C560.6 498.1 559.8 500.8 559.5 501.7"/>
<path d="M530 502.3C530.9 502.2 534.2 502.1 535.4 501.7C536.5 501.2 535.4 499.8 536.7 499.7C538 499.5 541.6 500.8 543.4 501C545.2 501.2 546.1 501 547.4 500.6C548.8 500.2 550.4 498.8 551.4 498.9C552.5 498.9 553.4 500.4 553.8 500.7"/>
<ellipse cx="546.3" cy="510.6" rx="5.6" ry="3.8" transform="rotate(-15 546.3 510.6)"/>
<ellipse cx="546.3" cy="510.6" rx="4.3" ry="2.5" transform="rotate(-15 546.3 510.6)"/>
<ellipse cx="551.7" cy="507.2" rx="3.8" ry="2.3" transform="rotate(-30 551.7 507.2)"/>
<path d="M445.1 526.8C445.4 526.2 446.2 523.8 447.1 522.8C448 521.8 449.3 522.3 450.5 520.8C451.6 519.4 452.2 516.5 453.8 514.1C455.4 511.8 457.5 508.6 459.8 506.7C462.2 504.9 465.2 503.7 467.9 502.9C470.5 502 474.6 502 475.9 501.8"/>
<path d="M475.9 501.8L535.1 501.8L537.0 500.2L541.5 501.5"/>
<path d="M445.1 526.8C445.7 526.5 447 525.4 448.4 525.1C449.9 524.8 452.4 524.8 453.8 525.1C455.2 525.4 456.1 526.7 456.6 527"/>
<path d="M466.5 522.2C467.4 521.5 469.9 519.2 471.9 518.4C473.9 517.6 476.1 517.2 478.6 517.1C481 516.9 485.3 517.4 486.6 517.5"/>
<path d="M486.6 517.5L526.8 514.9L540.5 514.1"/>
<path d="M486.0 517.7L481.3 523.0"/>
<path d="M443.1 531.5L465.2 524.6"/>
<path d="M450.5 540.6C452.5 540.3 458.7 539.3 462.5 538.9C466.3 538.4 469.7 538 473.2 538C476.8 538 480.8 538.3 483.9 538.9C487.1 539.5 489.6 540.7 492 541.6C494.3 542.4 497 543.5 498 543.9"/>
<ellipse cx="446.4" cy="535.3" rx="5.0" ry="5.1" stroke-width="1.6"/>
<ellipse cx="445.4" cy="536.1" rx="3.6" ry="3.9" fill="#fff"/>
<ellipse cx="470.3" cy="527.5" rx="5.0" ry="5.1" stroke-width="1.6"/>
<ellipse cx="469.2" cy="528.3" rx="3.6" ry="3.9" fill="#fff"/>
<path d="M474.8 524.2C476.1 524 479.3 522.8 482.6 523C485.9 523.1 490.4 523.6 494.7 524.8C498.9 526 503.6 528 508.1 530.2C512.5 532.4 517.4 535.8 521.5 538.2C525.5 540.7 528.6 543 532.2 544.9C535.7 546.8 539.3 548.5 542.9 549.7C546.5 551 551.8 552.2 553.6 552.7" stroke-width="1.5"/>
<path d="M475.9 525.9C477 525.7 479.6 524.7 482.6 524.8C485.6 525 489.9 525.5 494 526.7C498.1 527.9 502.6 529.8 507 532.1C511.4 534.3 516.4 537.6 520.4 540.1C524.4 542.6 527.5 544.9 531.1 546.8C534.7 548.7 538.1 550.3 541.8 551.6C545.6 552.9 551.6 554.1 553.6 554.6"/>
<path d="M446.7 542.5C445.5 543.8 442.2 547.6 439.7 550.3C437.2 552.9 433.6 556.2 431.7 558.3C429.8 560.4 428.7 561.3 428.3 563C428 564.7 428.5 567 429.7 568.4C430.9 569.7 433.8 571.1 435.7 571.2C437.6 571.3 438.6 571.4 441.1 569C443.5 566.7 447.5 560.6 450.5 557C453.4 553.4 456 550.1 458.5 547.6C460.9 545.1 464.1 543.1 465.2 542.2"/>
<path d="M441.7 557.6L446.4 552.3" stroke-width="2.2"/>
<path d="M453.8 540.9C454.6 541.3 456.8 542.9 458.5 543C460.2 543.2 463.2 541.9 464.1 541.7"/>
<path d="M483.4 580C483.3 578.4 482.5 573.8 482.6 570.4C482.7 567 482.8 563.2 483.9 559.7C485.1 556.1 487.1 551.7 489.3 548.9C491.5 546.2 494.2 544.4 497.3 542.9C500.5 541.5 504.5 540.5 508.1 540.2C511.6 540 515.2 540.6 518.8 541.6C522.3 542.6 526.1 544.8 529.5 546.3C532.8 547.8 535.1 549.2 538.9 550.5C542.6 551.9 549.8 553.9 552 554.6"/>
<ellipse cx="503.6" cy="552.0" rx="1.1" ry="1.2" stroke-width="1.8"/>
<path d="M521.5 534.5L526.8 530.2L529.0 531.8L524.1 536.3"/>
<path d="M510.7 530.5C512.5 529.8 516.5 527.2 521.5 526.4C526.4 525.6 537.1 525.8 540.2 525.6"/>
<path d="M526.8 514.9L542.9 525.1"/>
<path d="M529.5 514.9L544.2 523.5"/>
<path d="M482.5 560C482.4 561.8 481.7 566.7 482 570.7C482.2 574.7 483.4 580.1 484.1 584.1C484.8 588.1 485.7 592.2 486.1 594.8C486.6 597.5 486.7 599.3 486.8 600.2"/>
<path d="M498.8 590.5C498.7 589 498 584.5 498.2 581.4C498.4 578.4 499 574.7 500.2 572.1C501.4 569.4 503.3 567 505.5 565.4C507.8 563.7 511.1 562.3 513.6 562C516 561.7 518 562.3 520.3 563.3C522.5 564.4 524.5 566.4 527 568C529.4 569.7 532.3 571.7 535 573.4C537.7 575.1 539.9 576.9 543.1 578.1C546.2 579.3 550.2 580.4 553.8 580.8C557.3 581.1 561.1 580.9 564.5 580.1C567.8 579.3 570.1 577.4 573.9 576.1C577.7 574.7 585 572.7 587.3 572.1"/>
<path d="M501.8 586.1C501.7 584.6 500.8 579.5 501 576.7C501.2 574 502.1 571.5 503.1 569.6C504.2 567.8 506.5 566.3 507.2 565.6"/>
<path d="M514.3 562.7L515.6 578.1"/>
<path d="M503.1 570.7L503.7 585.5"/>
<path d="M482.1 607.6L479.4 621.0L481.4 624.3L488.8 627.6L493.0 621.9L492.4 612.5L488.8 608.9Z"/>
<path d="M482.1 607.6L496.2 595.1L500.2 597.2L513.6 584.1"/>
<path d="M485.5 606.3L527.0 571.5" stroke-width="1.6"/>
<path d="M488.8 608.9L529.7 573.4"/>
<path d="M492.4 612.5L537.0 574.7" stroke-width="1.5"/>
<path d="M488.8 627.6L535.7 583.4L537.0 574.7"/>
<path d="M483.8 610.9L485.7 611.4L485.5 613.3"/>
<path d="M482.5 620.0L484.9 620.8L484.6 623.0"/>
<ellipse cx="540.6" cy="564.0" rx="8.3" ry="4.6" transform="rotate(-10 540.6 564.0)"/>
<ellipse cx="540.6" cy="564.0" rx="6.4" ry="2.9" transform="rotate(-10 540.6 564.0)"/>
<ellipse cx="560.2" cy="565.4" rx="2.9" ry="2.9"/>
<path d="M560.1 502.7L570.8 506.7L639.1 546.3" stroke-width="1.5"/>
<path d="M639.1 546.3C640.5 547.4 644.5 549.8 647.2 553C649.8 556.1 653 561.6 655.2 565C657.4 568.4 659.7 571.9 660.6 573.3" stroke-width="1.5"/>
<path d="M561.2 505.5L572.2 509.0L637.8 547.9"/>
<path d="M637.8 547.9C639.1 549.1 643.1 551.9 645.8 555.1C648.5 558.3 651.7 563.9 653.9 567.2C656 570.4 657.9 573.4 658.7 574.7"/>
<path d="M560.1 515.5L596.3 536.2L620.4 553.0L633.8 563.0"/>
<path d="M633.8 563C635.3 564.7 640.9 570.2 643.1 573.1C645.4 575.9 646.5 578.9 647.2 580"/>
<path d="M559.6 502.7L559.6 551.9"/>
<path d="M546 514.1C546.1 516.8 546.5 525.7 546.7 530.2C546.9 534.7 546.8 538 547.5 540.9C548.2 543.8 549.3 546 550.7 547.6C552.1 549.2 554.3 550.1 556.1 550.5C557.9 551 560.5 550.5 561.4 550.5"/>
<path d="M558.2 514.1C558.3 516.8 558.4 525.3 558.8 530.2C559.1 535.1 559.6 540.2 560.1 543.6C560.5 547 561.2 549.4 561.4 550.5"/>
<path d="M552.3 517.5L554.5 516.9" stroke-width="1.8"/>
<path d="M552.3 522.2L554.5 521.6" stroke-width="1.8"/>
<path d="M552.3 526.8L554.5 526.3" stroke-width="1.8"/>
<path d="M552.3 531.5L554.5 531.0" stroke-width="1.8"/>
<path d="M552.3 536.2L554.5 535.7" stroke-width="1.8"/>
<path d="M552.3 540.6L554.5 540.1" stroke-width="1.8"/>
<path d="M561.4 534.2L573.5 536.2L596.3 536.2" stroke-width="1.6"/>
<path d="M561.4 536.6L572.2 538.5L593.6 537.2"/>
<path d="M540 548.9C541.3 549.3 544.7 550.4 548 551C551.4 551.5 554.7 552.2 560.1 552.3C565.5 552.4 574.6 551.3 580.2 551.6C585.8 552 587.8 552.4 593.6 554.3C599.4 556.2 610 560.7 615 563C620 565.3 622.3 567.1 623.7 568" stroke-width="1.6"/>
<path d="M561.4 553.5C564.6 553.5 574.9 552.8 580.2 553.2C585.5 553.6 587.5 554 593 555.9C598.6 557.8 610.2 563.1 613.7 564.5"/>
<ellipse cx="576.2" cy="548.9" rx="2.4" ry="2.3"/>
<ellipse cx="560.4" cy="565.3" rx="2.9" ry="2.9"/>
<ellipse cx="562.2" cy="522.2" rx="2.4" ry="2.4"/>
<path d="M620.4 562.3L627.1 556.3L632.7 560.5L625.7 567.2Z"/>
<ellipse cx="617.3" cy="570.4" rx="4.0" ry="4.0" stroke-width="1.6"/>
<ellipse cx="616.6" cy="571.0" rx="2.8" ry="2.9" fill="#fff"/>
<path d="M631.1 565.0L636.7 573.3"/>
<path d="M633.8 563.0L639.1 570.4"/>
<path d="M570.8 580C572.4 579.1 576.4 575.8 580.2 574.7C584 573.5 589.6 572.9 593.6 573.1C597.6 573.2 601.6 574.6 604.3 575.7C607 576.9 608.8 579.3 609.7 580"/>
<path d="M512.8 528.8C514.3 528.2 519.2 526 522.2 525.5C525.1 524.9 527.7 525 530.2 525.5C532.6 525.9 534.7 527 536.9 528.1C539.1 529.3 542.5 531.7 543.6 532.4"/>
<path d="M526.2 514.7L544.9 526.1" stroke-width="1.8"/>
<path d="M528.8 514.5L546.9 525.5"/>
<path d="M490 546.9C491.3 546.2 494.9 544 498 542.9C501.2 541.8 505.2 540.5 508.8 540.2C512.3 539.9 515.9 540.1 519.5 540.9C523 541.6 526.2 543.1 530.2 544.9C534.2 546.7 538.7 550.2 543.6 551.6C548.5 552.9 557 552.8 559.7 553"/>
<path d="M562.3 535.5L573.1 536.4L594.5 535.1" stroke-width="2"/>
<ellipse cx="540.4" cy="520.1" rx="2.3" ry="2.3"/>
<ellipse cx="563.1" cy="522.8" rx="2.3" ry="2.3"/>
<path d="M559.7 552C562.3 551.8 570.4 550.7 575.7 550.9C581.1 551.1 586.5 551.6 591.8 552.9C597.2 554.3 603.7 557.3 607.9 558.9C612.1 560.6 615.5 562.3 617 563" stroke-width="1.8"/>
<path d="M578 574C579.3 576 584 581.7 586 586C588 590.3 589 595.3 590 600C591 604.7 591.7 611.7 592 614"/>
<path d="M592 580C593.3 582 597.7 587.3 600 592C602.3 596.7 604.8 602.7 606 608C607.2 613.3 608 619.3 607 624C606 628.7 601.2 634 600 636"/>
<path d="M548 579.2C550 579.5 556 581.1 560 580.8C564 580.5 568.7 579 572 577.6C575.3 576.2 577 573.3 580 572.4C583 571.5 586.7 571.5 590 572.4C593.3 573.3 596.7 575.7 600 578C603.3 580.3 608.3 584.7 610 586"/>
</g>

<g class="z p" stroke-width="1.5" transform="translate(540 530) scale(.2)">
<path d="M600 200C616 190 632 198 634 214C634 232 620 250 604 262"/>
<path d="M530 246C546 226 580 222 594 238C606 258 600 290 584 304C570 316 550 322 530 324"/>
<ellipse cx="512" cy="302" rx="22" ry="24"/>
<ellipse cx="510" cy="303" rx="14" ry="16"/>
<path d="M530 246C522 256 516 268 512 278"/>
<path d="M446 190L500 214L492 240L458 226Z"/>
<path d="M460 200L486 222"/>
<path d="M506 340C530 390 570 460 610 522L626 546C640 550 680 530 690 510C670 470 620 400 556 312"/>
<path d="M506 340C520 348 548 336 560 318"/>
<path d="M566 426L596 466" stroke-width="2.200"/>
<path d="M622 538C640 540 672 524 684 504"/>
<path d="M0 226C40 240 80 248 120 242C160 232 190 216 230 214C280 212 320 224 342 236"/>
<path d="M342 236C380 276 410 310 422 336C434 370 436 396 430 410L380 452"/>
<path d="M414 312C424 340 426 380 400 420"/>
<path d="M180 230C230 248 270 300 300 360C320 410 332 450 326 480L292 520"/>
<path d="M290 226C330 276 350 336 356 400C356 420 350 436 342 444"/>
<path d="M350 440L372 450L396 426"/>
<path d="M400 350L412 380" stroke-width="2"/>
<path d="M170 490C156 510 150 540 152 562C158 590 176 606 200 610L216 604L280 540C282 516 280 490 274 470L256 446L250 420Z"/>
<path d="M176 500L256 430M198 520L274 454"/>
<path d="M170 490L198 520C204 550 210 580 216 604"/>
<ellipse cx="232" cy="546" rx="9" ry="11" stroke-width="1.800"/>
<path d="M180 528L190 532M184 586L194 590"/>
</g>

</svg>
</body></html>
